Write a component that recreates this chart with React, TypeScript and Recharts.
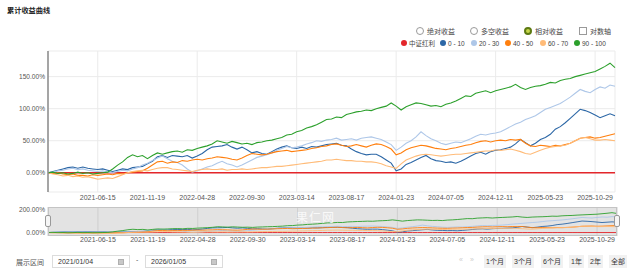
import { CartesianGrid, Line, LineChart, XAxis, YAxis } from "recharts";

// x tick positions are sample indices (one sample ~ every 10 trading days)
const TICK_IDX = [10, 20, 30, 40, 50, 60, 70, 80, 90, 100, 110];
const TICK_LABELS = [
  "2021-06-15", "2021-11-19", "2022-04-28", "2022-09-30", "2023-03-14", "2023-08-17",
  "2024-01-23", "2024-07-05", "2024-12-11", "2025-05-23", "2025-10-29",
];
const Y_TICKS = [0, 50, 100, 150];
const NAV_Y_TICKS = [0, 200];

// 中证红利 (benchmark, relative return is flat)
const BENCH = [
  0, 0, 0, 0, 0, 0, 0, 0, 0, 0, 0, 0, 0, 0, 0, 0, 0, 0, 0, 0, 0, 0, 0, 0, 0, 0, 0, 0, 0, 0,
  0, 0, 0, 0, 0, 0, 0, 0, 0, 0, 0, 0, 0, 0, 0, 0, 0, 0, 0, 0, 0, 0, 0, 0, 0, 0, 0, 0, 0, 0,
  0, 0, 0, 0, 0, 0, 0, 0, 0, 0, 0, 0, 0, 0, 0, 0, 0, 0, 0, 0, 0, 0, 0, 0, 0, 0, 0, 0, 0, 0,
  0, 0, 0, 0, 0, 0, 0, 0, 0, 0, 0, 0, 0, 0, 0, 0, 0, 0, 0, 0, 0, 0, 0, 0, 0,
];
// 0 - 10
const G0_10 = [
  0, 2, 4, 6, 8, 9, 7, 9, 7, 6, 5, 6, 4, 2, 4, 6, 5, 8, 9, 10,
  14, 18, 25, 27, 24, 27, 26, 25, 27, 23, 26, 30, 36, 40, 41, 42, 44, 40, 37, 40,
  36, 31, 33, 30, 29, 33, 37, 40, 42, 39, 38, 40, 38, 41, 40, 42, 44, 45, 46, 43,
  42, 37, 33, 30, 28, 29, 29, 25, 20, 15, 3, 6, 13, 16, 20, 24, 27, 22, 19, 18,
  16, 17, 15, 18, 22, 26, 30, 32, 29, 33, 35, 36, 38, 40, 45, 52, 47, 42, 46, 52,
  55, 60, 68, 72, 78, 85, 92, 99, 97, 94, 90, 86, 89, 92, 89,
];
// 20 - 30
const G20_30 = [
  0, 1, 3, 4, 6, 7, 5, 6, 4, 3, 2, 3, 1, 0, 2, 4, 3, 6, 8, 12,
  15, 19, 23, 26, 22, 18, 16, 12, 6, 1, 3, 6, 9, 11, 15, 18, 14, 12, 9, 12,
  16, 20, 24, 26, 28, 31, 35, 38, 41, 39, 40, 42, 45, 47, 50, 49, 51, 52, 54, 51,
  52, 53, 51, 54, 55, 56, 54, 52, 48, 44, 35, 40, 46, 50, 56, 64, 58, 53, 50, 46,
  44, 46, 48, 47, 50, 53, 57, 60, 59, 61, 62, 64, 68, 72, 76, 79, 83, 86, 89, 94,
  99, 102, 105, 108, 113, 118, 124, 130, 127, 125, 130, 134, 132, 137, 135,
];
// 40 - 50
const G40_50 = [
  0, -1, 0, -2, -3, -2, -4, -4, -5, -3, -4, -3, -2, -3, -1, -2, 0, 1, 2, 3,
  7, 12, 17, 18, 15, 17, 16, 19, 18, 20, 21, 20, 22, 23, 25, 24, 23, 21, 20, 23,
  27, 30, 29, 28, 29, 31, 33, 34, 35, 33, 34, 35, 36, 38, 39, 41, 42, 44, 45, 43,
  41, 42, 44, 42, 40, 43, 45, 44, 41, 37, 28, 31, 36, 39, 41, 43, 42, 40, 38, 37,
  36, 38, 39, 41, 43, 44, 47, 49, 50, 48, 50, 51, 50, 52, 51, 52, 46, 42, 41, 43,
  42, 41, 43, 42, 44, 46, 50, 54, 55, 56, 54, 55, 57, 59, 61,
];
// 60 - 70
const G60_70 = [
  0, -2, -3, -5, -4, -6, -5, -7, -6, -8, -10, -9, -8, -9, -6, -3, 0, 2, 3, 4,
  3, 5, 7, 8, 8, 6, 5, 4, 3, 2, 4, 5, 6, 5, 5, 6, 4, 5, 5, 6,
  5, 6, 7, 8, 8, 9, 10, 10, 11, 12, 13, 14, 15, 16, 17, 18, 20, 20, 21, 20,
  19, 19, 18, 18, 17, 17, 16, 14, 11, 9, 7, 14, 20, 23, 26, 28, 29, 28, 27, 26,
  27, 28, 29, 29, 30, 31, 32, 33, 34, 34, 36, 35, 36, 37, 35, 33, 30, 29, 32, 35,
  38, 40, 41, 42, 43, 46, 50, 54, 55, 53, 51, 51, 52, 51, 50,
];
// 90 - 100
const G90_100 = [
  0, 1, -1, 0, -2, -1, 1, -1, 0, -2, -1, 0, 1, 6, 12, 17, 24, 28, 25, 27,
  22, 27, 31, 29, 31, 33, 34, 32, 36, 35, 38, 40, 42, 45, 50, 48, 46, 49, 47, 45,
  46, 44, 47, 48, 50, 51, 53, 55, 59, 60, 64, 66, 70, 72, 75, 79, 83, 84, 87, 86,
  91, 93, 95, 96, 98, 97, 100, 102, 104, 109, 104, 98, 103, 106, 109, 108, 106, 104, 105, 103,
  107, 109, 112, 116, 120, 119, 124, 126, 128, 125, 128, 130, 132, 134, 138, 133, 130, 133, 135, 136,
  138, 141, 140, 144, 146, 147, 150, 152, 154, 156, 158, 162, 166, 171, 164,
];

const SERIES = [
  { key: "bench", name: "中证红利", color: "#e3262b", values: BENCH },
  { key: "g0", name: "0 - 10", color: "#2c67a6", values: G0_10 },
  { key: "g20", name: "20 - 30", color: "#aec7e8", values: G20_30 },
  { key: "g40", name: "40 - 50", color: "#ff7f0e", values: G40_50 },
  { key: "g60", name: "60 - 70", color: "#ffbb78", values: G60_70 },
  { key: "g90", name: "90 - 100", color: "#2ca02c", values: G90_100 },
];

const data = BENCH.map((_, i) => {
  const row: Record<string, number> = { i };
  SERIES.forEach((s) => (row[s.key] = s.values[i]));
  return row;
});

const FONT = '"Liberation Sans", "Noto Sans CJK SC", Arial, sans-serif';
const fmtX = (v: number) => TICK_LABELS[TICK_IDX.indexOf(v)] ?? "";
const fmtPct = (v: number) => `${v.toFixed(2)}%`;

function Radio({ x, label, checked }: { x: number; label: string; checked?: boolean }) {
  return (
    <div style={{ position: "absolute", left: x - 4, top: 27, display: "flex", alignItems: "center", height: 8 }}>
      <span
        style={{
          width: checked ? 4 : 6,
          height: checked ? 4 : 6,
          borderRadius: "50%",
          border: checked ? "2px solid #5d7a12" : "1px solid #9a9a9a",
          background: checked ? "#c6d64a" : "#fff",
          marginRight: 3,
        }}
      />
      <span style={{ fontSize: 7, color: "#444" }}>{label}</span>
    </div>
  );
}

function LegendDot({ x, label, color }: { x: number; label: string; color: string }) {
  return (
    <div style={{ position: "absolute", left: x - 3, top: 39, display: "flex", alignItems: "center", height: 8 }}>
      <span style={{ width: 6, height: 6, borderRadius: "50%", background: color, marginRight: 2 }} />
      <span style={{ fontSize: 6.5, color: "#444" }}>{label}</span>
    </div>
  );
}

const BTNS = [
  { x: 484, label: "1个月" },
  { x: 512, label: "3个月" },
  { x: 541, label: "6个月" },
  { x: 569, label: "1年" },
  { x: 588, label: "2年" },
  { x: 609, label: "全部" },
];

function DateBox({ x, w, text }: { x: number; w: number; text: string }) {
  return (
    <div
      style={{
        position: "absolute", left: x, top: 255, width: w, height: 13, border: "1px solid #dcdcdc",
        boxSizing: "border-box", fontSize: 7, color: "#333", lineHeight: "11px", paddingLeft: 5,
      }}
    >
      {text}
      <span
        style={{
          position: "absolute", right: 5, top: 3, width: 6, height: 6, background: "#c8c8c8",
          border: "1px solid #b0b0b0", boxSizing: "border-box",
        }}
      />
    </div>
  );
}

export default function App() {
  return (
    <div style={{ position: "absolute", left: 0, top: 0, width: 635, height: 271, background: "#fff", fontFamily: FONT, overflow: "hidden" }}>
      <div style={{ position: "absolute", left: 7, top: 5, fontSize: 7.2, fontWeight: 700, color: "#222" }}>累计收益曲线</div>

      <Radio x={420} label="绝对收益" />
      <Radio x={474} label="多空收益" />
      <Radio x={528} label="相对收益" checked />
      <div style={{ position: "absolute", left: 579, top: 27, display: "flex", alignItems: "center", height: 8 }}>
        <span style={{ width: 6, height: 6, border: "1px solid #9a9a9a", marginRight: 3 }} />
        <span style={{ fontSize: 7, color: "#444" }}>对数轴</span>
      </div>
      {SERIES.map((s, k) => (
        <LegendDot key={s.key} x={[404, 443, 474, 508, 543, 577][k]} label={s.name} color={s.color} />
      ))}

      <div style={{ position: "absolute", left: 0, top: 0 }}>
        <LineChart width={635} height={206} data={data} margin={{ top: 51, right: 20, bottom: 2, left: 0 }}>
          <CartesianGrid stroke="#ebebeb" verticalPoints={undefined} />
          <XAxis
            type="number"
            dataKey="i"
            domain={[0, 114]}
            ticks={TICK_IDX}
            tickFormatter={fmtX}
            axisLine={false}
            tickLine={false}
            tickSize={0}
            tickMargin={3}
            height={12}
            tick={{ fontSize: 7, fill: "#555", fontFamily: FONT }}
          />
          <YAxis
            domain={[-30, 190]}
            ticks={Y_TICKS}
            tickFormatter={fmtPct}
            width={48}
            axisLine={{ stroke: "#8a8a8a", strokeWidth: 1.5 }}
            tickLine={false}
            tickSize={0}
            tickMargin={3}
            tick={{ fontSize: 6.6, fill: "#555", fontFamily: FONT }}
          />
          {SERIES.map((s) => (
            <Line
              key={s.key}
              dataKey={s.key}
              stroke={s.color}
              strokeWidth={s.key === "bench" ? 1.3 : 1.1}
              dot={false}
              isAnimationActive={false}
            />
          ))}
        </LineChart>
      </div>

      {/* navigator */}
      <div style={{ position: "absolute", left: 0, top: 200 }}>
        <LineChart width={635} height={46} data={data} margin={{ top: 7, right: 18, bottom: 0, left: 0 }}>
          <CartesianGrid horizontal={false} stroke="#cfcfcf" fill="#e3e3e3" />
          <XAxis
            type="number"
            dataKey="i"
            domain={[0, 114]}
            ticks={TICK_IDX}
            tickFormatter={fmtX}
            axisLine={false}
            tickLine={false}
            tickSize={0}
            tickMargin={1}
            height={10}
            tick={{ fontSize: 7, fill: "#555", fontFamily: FONT }}
          />
          <YAxis
            domain={[-30, 220]}
            ticks={NAV_Y_TICKS}
            tickFormatter={fmtPct}
            width={48}
            axisLine={false}
            tickLine={false}
            tickSize={0}
            tickMargin={3}
            tick={{ fontSize: 6.6, fill: "#555", fontFamily: FONT }}
          />
          {SERIES.map((s) => (
            <Line
              key={s.key}
              dataKey={s.key}
              stroke={s.color}
              strokeWidth={0.9}
              dot={false}
              isAnimationActive={false}
            />
          ))}
        </LineChart>
      </div>
      <div style={{ position: "absolute", left: 48, top: 207, width: 569, height: 29, border: "1px solid #c4c4c4", boxSizing: "border-box" }} />
      <div style={{ position: "absolute", left: 296, top: 208, fontSize: 12, color: "#fff", opacity: 0.8, letterSpacing: 1 }}>果仁网</div>
      {[45, 614].map((x) => (
        <div key={x} style={{ position: "absolute", left: x, top: 215, width: 6, height: 12, background: "#f6f6f6", border: "1px solid #999", borderRadius: 2, boxSizing: "border-box" }} />
      ))}

      {/* bottom controls */}
      <div style={{ position: "absolute", left: 16, top: 257, fontSize: 7, color: "#555" }}>展示区间</div>
      <DateBox x={52} w={78} text="2021/01/04" />
      <div style={{ position: "absolute", left: 136, top: 256, fontSize: 7, color: "#555" }}>-</div>
      <DateBox x={145} w={78} text="2026/01/05" />
      <div style={{ position: "absolute", left: 459, top: 256, fontSize: 7, color: "#ccc" }}>«</div>
      <div style={{ position: "absolute", left: 470, top: 256, fontSize: 7, color: "#ccc" }}>»</div>
      {BTNS.map((b) => (
        <div
          key={b.label}
          style={{
            position: "absolute", left: b.x, top: 255, height: 13, padding: "0 2px", background: "#f1f1f1",
            fontSize: 7, lineHeight: "13px", color: "#333",
          }}
        >
          {b.label}
        </div>
      ))}
    </div>
  );
}
